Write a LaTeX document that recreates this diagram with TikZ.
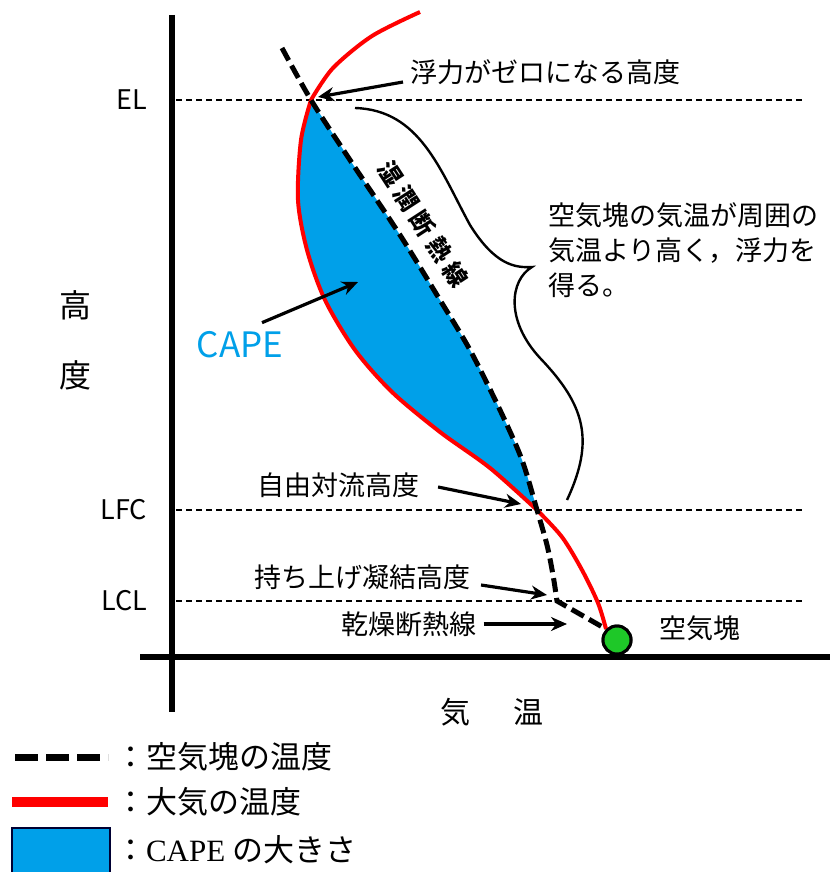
\documentclass[tikz,border=0pt]{standalone}
\usepackage{fontspec}
\setmainfont{Noto Sans CJK JP}
\newfontfamily\legserif{Liberation Serif}
\usetikzlibrary{arrows.meta}

\definecolor{capeblue}{RGB}{0,160,233}
\definecolor{airred}{RGB}{255,0,0}
\definecolor{parcelgreen}{RGB}{30,200,40}

\tikzset{
  level/.style={line width=0.6pt, dash pattern=on 3pt off 2pt},
  lbl/.style={font=\fontsize{13.5}{17.5}\selectfont},
  leg/.style={font=\fontsize{15.5}{18}\selectfont},
  pointer/.style={-{Stealth[length=8pt,width=7pt]}, line width=1.6pt},
  parceltemp/.style={line width=2.5pt, dash pattern=on 7pt off 3pt},
  airtemp/.style={airred, line width=2pt}
}

\begin{document}
\begin{tikzpicture}[x=0.5pt,y=-0.5pt]
    \useasboundingbox[fill=white] (0,0) rectangle (830,872);

    % Levels
    \coordinate (el) at (311,100);
    \coordinate (lfc) at (537,510);
    \coordinate (lcl) at (557,601);

    % CAPE area
    \fill[capeblue] plot[smooth] coordinates {(el) (301,140) (298,200) (307,250) (325,300) (355,350) (392,392) (440,432) (490,468) (lfc)}
      -- plot[smooth] coordinates {(lfc) (522,460) (500,410) (470,350) (440,300) (400,235) (350,160) (el)} -- cycle;

    % Axes
    \draw[line width=3pt] (172,15) -- (172,712);
    \draw[line width=3pt] (140,657) -- (830,657);

    % Level lines
    \foreach \y/\name/\txt in {100/ellbl/EL, 510/lfclbl/LFC, 601/lcllbl/LCL} {
      \draw[level] (176,\y) -- (805,\y);
      \node[lbl, anchor=east] (\name) at (154,\y) {\txt};
    }

    % Parcel
    \node[circle, draw, line width=1.5pt, fill=parcelgreen, minimum size=14pt, inner sep=0pt] (pcl) at (617,640) {};

    % Air temperature
    \draw[airtemp] plot[smooth] coordinates {(420,12) (372,36) (333,68) (el)};
    \draw[airtemp] plot[smooth] coordinates {(el) (301,140) (298,200) (307,250) (325,300) (355,350) (392,392) (440,432) (490,468) (lfc)};
    \draw[airtemp] plot[smooth] coordinates {(lfc) (562,537) (582,570) (598,603) (pcl.north west)};

    % Parcel temperature
    \draw[parceltemp] plot[smooth] coordinates {(282,48) (el) (350,160) (400,235) (440,300) (470,350) (500,410) (522,460) (lfc) (547,545) (553,575) (lcl)} -- (pcl.north west);

    % Parcel on top
    \node[circle, draw, line width=1.5pt, fill=parcelgreen, minimum size=14pt, inner sep=0pt] at (pcl) {};
    \node[lbl] (parceltxt) at (700,628) {空気塊};

    % Brace
    \draw[line width=1.2pt] (355,108) .. controls (420,110) and (440,170) .. (470,225)
      .. controls (495,265) and (515,268) .. (532,267)
      .. controls (510,280) and (505,320) .. (540,358)
      .. controls (585,405) and (595,440) .. (567,500);
    \node[lbl, anchor=north west, align=left] (buoytxt) at (541,196) {空気塊の気温が周囲の\\気温より高く，浮力を\\得る。};

    % Labels and pointers
    \node[font=\fontsize{12}{14}\selectfont\bfseries, rotate=-57, inner sep=0pt] (moisttxt) at (423,224) {湿\hspace{3pt}潤\hspace{3pt}断\hspace{3pt}熱\hspace{3pt}線};
    \node[lbl, anchor=west] (zerotxt) at (403,72) {浮力がゼロになる高度};
    \draw[pointer] ([yshift=-5pt]zerotxt.west) -- ([xshift=3.5pt,yshift=1.5pt]el);

    \node[lbl] (lfctxt) at (338,485) {自由対流高度};
    \draw[pointer] ([xshift=6pt,yshift=-1pt]lfctxt.east) -- ([xshift=-8pt,yshift=3pt]lfc);

    \node[lbl] (lcltxt) at (362,577) {持ち上げ凝結高度};
    \draw[pointer] ([xshift=2pt,yshift=-4pt]lcltxt.east) -- ([xshift=-5pt,yshift=3pt]lcl);

    \node[lbl] (drytxt) at (409,624) {乾燥断熱線};
    \coordinate (dryhit) at (567,624);
    \draw[pointer] (drytxt.east) -- (dryhit);

    \node[font=\fontsize{17.5}{20}\selectfont, text=capeblue] (capetxt) at (240,345) {CAPE};
    \coordinate (capehit) at (358,282);
    \draw[pointer] ([xshift=11pt,yshift=1pt]capetxt.north) -- (capehit);

    % Axis titles
    \node[font=\fontsize{16}{35}\selectfont, align=center] (ytitle) at (75,340) {高\\度};
    \node[font=\fontsize{15}{18}\selectfont] (xtitle) at (492,712) {気\hspace{22pt}温};

    % Legend
    \draw[line width=3.5pt, dash pattern=on 11.5pt off 4pt] (15,757) -- (108,757);
    \node[leg, anchor=west] (legparcel) at (108,757) {：空気塊の温度};
    \draw[airred, line width=5pt] (12,802) -- (108,802);
    \node[leg, anchor=west] (legair) at (108,802) {：大気の温度};
    \draw[fill=capeblue, draw=black!80!blue, line width=0.8pt] (12,828) rectangle (110,874);
    \node[leg, anchor=west] (legcape) at (108,850) {：{\legserif CAPE} の大きさ};
\end{tikzpicture}
\end{document}
